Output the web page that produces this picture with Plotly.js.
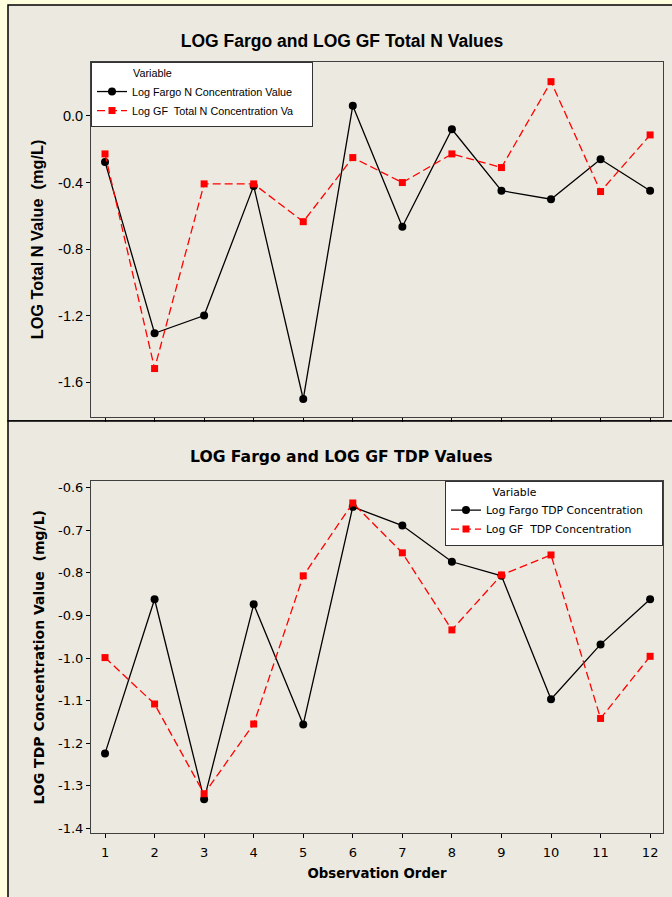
<!DOCTYPE html>
<html>
<head>
<meta charset="utf-8">
<script src="https://cdn.plot.ly/plotly-3.0.1.min.js"></script>
<style>html,body{margin:0;padding:0;background:#FFFFE0;}#chart{width:672px;height:897px;}</style>
</head>
<body>
<div id="chart"></div>
<script>
// ---- data ----
var observationOrder = [1, 2, 3, 4, 5, 6, 7, 8, 9, 10, 11, 12];
var logFargoN  = [-0.276, -1.305, -1.199, -0.420, -1.700, 0.062, -0.665, -0.080, -0.449, -0.500, -0.260, -0.449];
var logGFN     = [-0.228, -1.517, -0.408, -0.408, -0.635, -0.250, -0.400, -0.228, -0.310, 0.206, -0.454, -0.114];
var logFargoTDP = [-1.224, -0.862, -1.332, -0.874, -1.156, -0.645, -0.689, -0.774, -0.807, -1.097, -0.968, -0.862];
var logGFTDP    = [-0.999, -1.108, -1.319, -1.155, -0.807, -0.636, -0.753, -0.934, -0.805, -0.758, -1.142, -0.996];

var topTickVals = [0.0, -0.4, -0.8, -1.2, -1.6];
var topTickText = ["0.0", "-0.4", "-0.8", "-1.2", "-1.6"];
var botTickVals = [-0.6, -0.7, -0.8, -0.9, -1.0, -1.1, -1.2, -1.3, -1.4];
var botTickText = ["-0.6", "-0.7", "-0.8", "-0.9", "-1.0", "-1.1", "-1.2", "-1.3", "-1.4"];
var xTickVals = observationOrder;
var xTickText = ["1","2","3","4","5","6","7","8","9","10","11","12"];

var topNames = ["Log Fargo N Concentration Value", "Log GF  Total N Concentration Va"];
var botNames = ["Log Fargo TDP Concentration", "Log GF  TDP Concentration"];

// ---- layout helpers (pixel -> paper) ----
var W = 672, H = 897;
function px(x){ return x / W; }
function py(y){ return 1 - y / H; }

var fontTop = "Liberation Sans, Arial, sans-serif";
var fontBot = "DejaVu Sans, Verdana, sans-serif";

var blackLine = {color: "#000000", width: 1.3};
var redLine = {color: "#FF0000", width: 1.3, dash: "8px,4px"};
var blackMarker = {symbol: "circle", size: 8, color: "#000000"};
var redMarker = {symbol: "square", size: 7, color: "#FF0000"};

var traces = [
  {x: observationOrder, y: logFargoN, xaxis: "x", yaxis: "y", mode: "lines+markers",
   name: topNames[0], line: blackLine, marker: blackMarker, legend: "legend"},
  {x: observationOrder, y: logGFN, xaxis: "x", yaxis: "y", mode: "lines+markers",
   name: topNames[1], line: redLine, marker: redMarker, legend: "legend"},
  {x: observationOrder, y: logFargoTDP, xaxis: "x2", yaxis: "y2", mode: "lines+markers",
   name: botNames[0], line: blackLine, marker: blackMarker, legend: "legend2"},
  {x: observationOrder, y: logGFTDP, xaxis: "x2", yaxis: "y2", mode: "lines+markers",
   name: botNames[1], line: redLine, marker: redMarker, legend: "legend2"}
];

var axisCommon = {
  showline: true, mirror: true, linecolor: "#404040", linewidth: 1,
  showgrid: false, zeroline: false, ticks: "outside", ticklen: 4,
  tickcolor: "#000000", tickmode: "array", automargin: false
};

function nbsp(n){ var s = ""; for (var i = 0; i < n; i++) s += "\u00a0"; return s; }

var layout = {
  width: W, height: H,
  margin: {l: 0, r: 0, t: 0, b: 0},
  paper_bgcolor: "#FFFFE0",
  plot_bgcolor: "#FFFFFF",
  showlegend: true,
  title: {
    text: "<b>LOG Fargo and LOG GF Total N Values</b>",
    font: {family: fontTop, size: 17.5, color: "#000000"},
    x: px(342), xanchor: "center", xref: "paper",
    y: py(41), yanchor: "middle", yref: "container"
  },
  xaxis: Object.assign({}, axisCommon, {
    domain: [px(91), px(663)], range: [0.717, 12.26], anchor: "y",
    tickvals: xTickVals, ticktext: xTickText, showticklabels: false
  }),
  yaxis: Object.assign({}, axisCommon, {
    domain: [py(417), py(62)], range: [-1.808, 0.324], anchor: "x",
    tickvals: topTickVals, ticktext: topTickText,
    tickfont: {family: fontTop, size: 14.5, color: "#000000"},
    title: {text: "<b>LOG Total N Value  (mg/L)</b>", standoff: 10,
            font: {family: fontTop, size: 16.3, color: "#000000"}}
  }),
  xaxis2: Object.assign({}, axisCommon, {
    domain: [px(91), px(663)], range: [0.717, 12.26], anchor: "y2",
    tickvals: xTickVals, ticktext: xTickText, ticklabelstandoff: 3,
    tickfont: {family: fontBot, size: 13, color: "#000000"},
    title: {text: "<b>Observation Order</b>", standoff: 9,
            font: {family: fontBot, size: 13.3, color: "#000000"}}
  }),
  yaxis2: Object.assign({}, axisCommon, {
    domain: [py(833.3), py(481.3)], range: [-1.4117, -0.585], anchor: "x2",
    tickvals: botTickVals, ticktext: botTickText,
    tickfont: {family: fontBot, size: 13, color: "#000000"},
    title: {text: "<b>LOG TDP Concentration Value  (mg/L)</b>", standoff: 10,
            font: {family: fontBot, size: 14, color: "#000000"}}
  }),
  legend: {
    x: px(91), xanchor: "left", y: py(62), yanchor: "top",
    bgcolor: "#FFFFFF", bordercolor: "#333333", borderwidth: 1,
    font: {family: fontTop, size: 10.8, color: "#000000"},
    title: {text: nbsp(13) + "Variable" + nbsp(46), side: "top",
            font: {family: fontTop, size: 10.8, color: "#000000"}},
    itemwidth: 30, tracegroupgap: 0
  },
  legend2: {
    x: px(663), xanchor: "right", y: py(480.5), yanchor: "top",
    bgcolor: "#FFFFFF", bordercolor: "#333333", borderwidth: 1,
    font: {family: fontBot, size: 10.8, color: "#000000"},
    title: {text: nbsp(13) + "Variable" + nbsp(36), side: "top",
            font: {family: fontBot, size: 10.8, color: "#000000"}},
    itemwidth: 30, tracegroupgap: 0
  },
  annotations: [
    {text: "<b>LOG Fargo and LOG GF TDP Values</b>", showarrow: false,
     xref: "paper", yref: "paper", x: px(341), y: py(457), xanchor: "center", yanchor: "middle",
     font: {family: fontBot, size: 15.6, color: "#000000"}}
  ],
  shapes: [
    {type: "rect", xref: "paper", yref: "paper", layer: "below",
     x0: px(8), x1: 1.02, y0: py(421), y1: py(5),
     fillcolor: "#ECE9E0", line: {color: "#000000", width: 1.5}},
    {type: "rect", xref: "paper", yref: "paper", layer: "below",
     x0: px(8), x1: 1.02, y0: -0.02, y1: py(421),
     fillcolor: "#ECE9E0", line: {color: "#000000", width: 1.5}}
  ]
};

Plotly.newPlot("chart", traces, layout, {staticPlot: true, displayModeBar: false});
</script>
</body>
</html>
